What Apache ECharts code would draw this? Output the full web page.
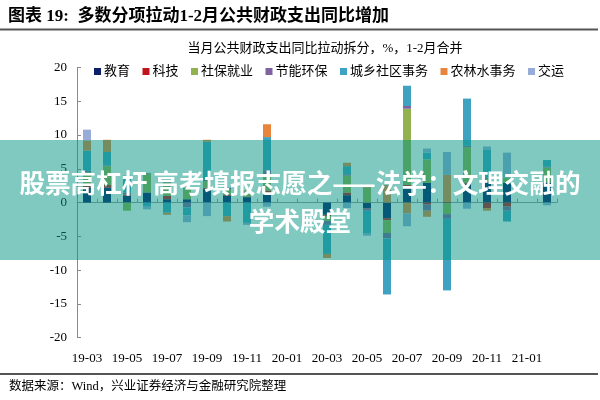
<!DOCTYPE html>
<html><head><meta charset="utf-8">
<script src="https://cdn.jsdelivr.net/npm/echarts@6/dist/echarts.min.js"></script>
<style>html,body{margin:0;padding:0;background:#fff}#c{width:600px;height:400px}</style>
</head><body><div id="c"></div>
<script>
const categories = ['19-03','19-04','19-05','19-06','19-07','19-08','19-09','19-10','19-11','19-12','20-01','20-02','20-03','20-04','20-05','20-06','20-07','20-08','20-09','20-10','20-11','20-12','21-01','21-02'];
const seriesNames = ['教育','科技','社保就业','节能环保','城乡社区事务','农林水事务','交运'];
const edu       = [2.2, 2.2, 1.0, 1.5, 0.5, 0.5, 2.0, 1.0, 0.8, 1.3, null, null, -1.8, 1.1, -0.8, -2.3, 2.4, 2.9, -0.1, 2.8, 3.0, 2.9, null, 2.9];
const tech      = [0.3, 0.4, 0.2, 0.0, 0.5, 0.0, 0.2, 0.2, 0.1, 0.5, null, null, -0.2, 0.4, -0.1, -0.3, 0.2, -0.3, 0.1, 0.1, -0.8, -0.6, null, 0.1];
const social    = [2.0, 2.8, -1.2, 2.8, 2.0, 1.7, 1.0, 0.7, 0.6, 2.3, null, null, -0.7, 2.5, 2.2, -1.9, 11.3, 3.5, -1.6, 5.3, 0.5, 0.8, null, 2.2];
const energy    = [0.2, 0.1, 0.3, 0.1, 0.1, -0.7, 0.2, 0.3, 0.1, 0.7, null, null, -0.6, 0.2, -0.3, -0.8, 0.4, -0.9, -0.7, 0.2, 0.2, -0.6, null, 0.1];
const urban     = [3.0, 2.0, 2.0, -0.5, -1.5, -1.2, 5.6, -2.0, -3.0, 4.9, null, null, -4.3, 1.2, -3.4, -8.3, 3.0, 1.0, -10.6, 7.0, 4.1, -1.6, null, 1.0];
const agri      = [1.5, 1.8, 0.3, 0.0, -0.3, 0.0, 0.3, -0.8, 0.2, 1.9, null, null, -0.6, 0.5, 0.4, 2.6, -1.6, -0.9, 4.0, 0.0, -0.4, 0.0, null, 0.0];
const transport = [1.6, 0.0, 0.2, -0.5, 0.0, -1.0, -2.0, 0.0, -0.3, -0.6, null, null, 0.0, -0.8, -0.3, 0.0, -1.9, 0.6, 3.4, -0.9, 0.5, 3.7, null, -0.4];
const yTicks = {min: -20, max: 20, interval: 5};

const colors = ['#0C1F6B', '#C0141C', '#92B24F', '#7F63A1', '#3FA2C0', '#E8843C', '#97ACD9'];
const values = [edu, tech, social, energy, urban, agri, transport];
const serif = "'Liberation Serif', 'Noto Sans CJK SC', serif";

const chart = echarts.init(document.getElementById('c'), null, {renderer: 'canvas'});
chart.setOption({
  animation: false,
  backgroundColor: '#fff',
  color: colors,
  grid: {left: 77, right: 43, top: 67.5, bottom: 62.3, containLabel: false},
  legend: {
    data: seriesNames, top: 60, left: 89, icon: 'rect', itemWidth: 7, itemHeight: 7, itemGap: 12.5,
    textStyle: {fontFamily: serif, fontSize: 13, color: '#000', padding: [0,0,0,-2]}
  },
  xAxis: [
    {type: 'category', data: categories, position: 'bottom',
     axisLine: {onZero: true, lineStyle: {color: '#9a9a9a', width: 1}},
     axisTick: {show: true, inside: true, length: 4, interval: 0, lineStyle: {color: '#9a9a9a'}},
     axisLabel: {show: false}, splitLine: {show: false}},
    {type: 'category', data: categories, position: 'bottom',
     axisLine: {show: false, onZero: false}, axisTick: {show: false},
     axisLabel: {interval: 1, fontFamily: serif, fontSize: 13, color: '#000', margin: 14},
     splitLine: {show: false}}
  ],
  yAxis: {
    type: 'value', min: yTicks.min, max: yTicks.max, interval: yTicks.interval,
    axisLine: {show: true, lineStyle: {color: '#8a8a8a'}},
    axisTick: {show: true, inside: true, length: 4, lineStyle: {color: '#8a8a8a'}},
    axisLabel: {fontFamily: serif, fontSize: 13, color: '#000', margin: 10},
    splitLine: {show: false}
  },
  series: seriesNames.map((n, i) => ({
    name: n, type: 'bar', stack: 'total', xAxisIndex: 0, barWidth: 8,
    data: values[i], itemStyle: {color: colors[i]}
  })),
  graphic: [
    {type: 'text', left: 8, top: 8, style: {text: '图表 19:  多数分项拉动1-2月公共财政支出同比增加', fontFamily: serif, fontWeight: 'bold', fontSize: 17, fill: '#000'}},
    {type: 'line', shape: {x1: 0, y1: 29.5, x2: 598, y2: 29.5}, style: {stroke: '#555', lineWidth: 2}},
    {type: 'text', x: 325, y: 49, style: {text: '当月公共财政支出同比拉动拆分，%，1-2月合并', fontFamily: serif, fontSize: 13, fill: '#000', align: 'center', verticalAlign: 'middle'}},
    {type: 'line', shape: {x1: 0, y1: 374, x2: 598, y2: 374}, style: {stroke: '#555', lineWidth: 2}},
    {type: 'text', x: 9, y: 387, style: {text: '数据来源：Wind，兴业证券经济与金融研究院整理', fontFamily: serif, fontSize: 12.5, fill: '#000', verticalAlign: 'middle'}},
    {type: 'rect', z: 100, shape: {x: 0, y: 140, width: 600, height: 120}, style: {fill: 'rgba(0,148,130,0.5)'}},
    {type: 'text', z: 101, x: 300, y: 183, style: {text: '股票高杠杆 高考填报志愿之——法学：文理交融的', fontFamily: "'Noto Sans CJK SC', sans-serif", fontWeight: 'bold', fontSize: 25.6, fill: '#fff', align: 'center', verticalAlign: 'middle'}},
    {type: 'text', z: 101, x: 300, y: 221, style: {text: '学术殿堂', fontFamily: "'Noto Sans CJK SC', sans-serif", fontWeight: 'bold', fontSize: 25.6, fill: '#fff', align: 'center', verticalAlign: 'middle'}}
  ]
});
</script></body></html>
